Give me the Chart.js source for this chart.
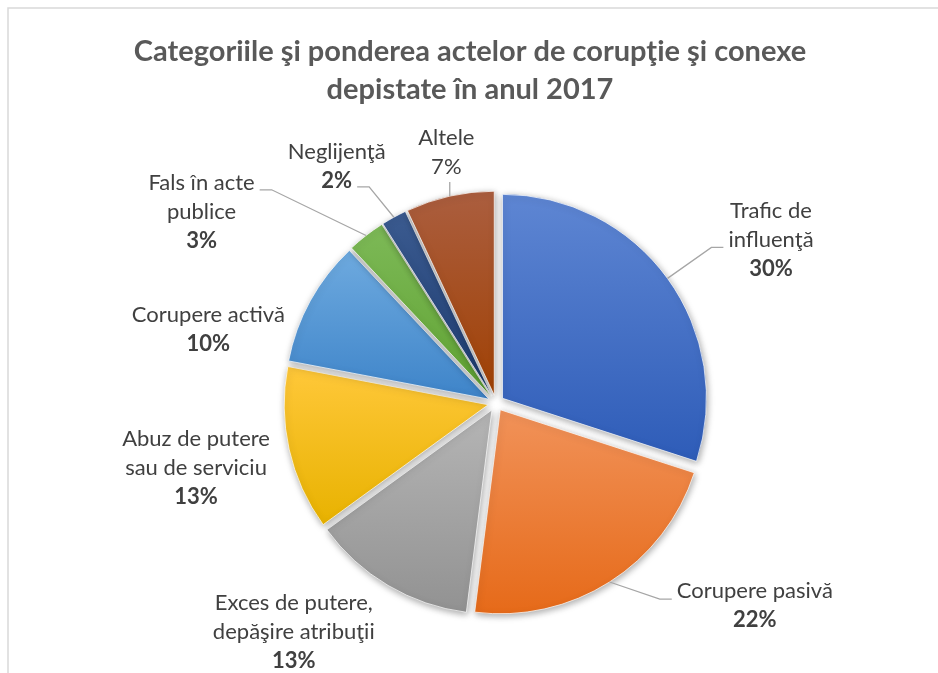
<!DOCTYPE html>
<html lang="ro">
  <head>
    <meta charset="UTF-8" />
    <title>Categoriile actelor de corupţie 2017</title>
    <script src="https://cdn.jsdelivr.net/npm/chart.js"></script>
    <style>
      html, body { margin: 0; padding: 0; background: #fff; }
      #wrap { width: 938px; height: 673px; position: relative; }
    </style>
  </head>
  <body>
    <div id="wrap"><canvas id="myChart"></canvas></div>

    <script>
      const titleLines = [
        "Categoriile şi ponderea actelor de corupţie şi conexe",
        "depistate în anul 2017",
      ];
      const categories = [
        ["Trafic de", "influenţă"],
        ["Corupere pasivă"],
        ["Exces de putere,", "depăşire atribuţii"],
        ["Abuz de putere", "sau de serviciu"],
        ["Corupere activă"],
        ["Fals în acte", "publice"],
        ["Neglijenţă"],
        ["Altele"],
      ];
      const shares = [30, 22, 13, 13, 10, 3, 2, 7];

      // styling
      const colorsTop = ["#5e86d3", "#f19259", "#b5b5b5", "#ffc83a", "#6eaadf", "#7db957", "#3b5b90", "#ab5e3f"];
      const colorsBottom = ["#2e5cb8", "#e66a19", "#929292", "#e8b200", "#3e84c9", "#60a333", "#1d3b70", "#a04104"];
      const EXPLODE = 8;
      const BORDER = 1;
      const LH = 29;
      const labelFont = "22px Lato";
      const pctFont = "bold 22px Lato";
      // label centre as angle (deg, clockwise from top) and distance in radii
      const labelPlace = [
        { a: 59.4, d: 1.566, lead: "L", row: -1, ly: 7 },
        { a: 128.0, d: 1.61, lead: "L", row: -1, ly: -6 },
        { a: 221.4, d: 1.499 },
        { a: 257.7, d: 1.505 },
        { a: 284.3, d: 1.455 },
        { a: 303.0, d: 1.721, lead: "R", row: -1, ly: -22 },
        { a: 326.0, d: 1.396, lead: "R", row: 1, ly: 20 },
        { a: 348.8, d: 1.254, lead: "B", ly: 30, bold: false },
      ];

      const total = shares.reduce((a, b) => a + b, 0);

      function sliceFill(context) {
        const i = context.dataIndex;
        const chart = context.chart;
        const area = chart.chartArea;
        if (!area) return colorsTop[i];
        const cy = (area.top + area.bottom) / 2;
        const r = (Math.min(area.width, area.height) - BORDER) / 2;
        let before = 0;
        for (let k = 0; k < i; k++) before += shares[k];
        const a0 = -Math.PI / 2 + (before / total) * 2 * Math.PI;
        const a1 = a0 + (shares[i] / total) * 2 * Math.PI;
        const ys = [cy, cy + r * Math.sin(a0), cy + r * Math.sin(a1)];
        [Math.PI / 2, (3 * Math.PI) / 2].forEach((e) => {
          if (e >= a0 && e <= a1) ys.push(cy + r * Math.sin(e));
        });
        const g = chart.ctx.createLinearGradient(0, Math.min(...ys), 0, Math.max(...ys));
        g.addColorStop(0, colorsTop[i]);
        g.addColorStop(1, colorsBottom[i]);
        return g;
      }

      // frame + title
      const framePlugin = {
        id: "frame",
        beforeDraw(chart) {
          const ctx = chart.ctx;
          ctx.save();
          ctx.strokeStyle = "#d9d9d9";
          ctx.lineWidth = 1.5;
          ctx.beginPath();
          ctx.moveTo(8, chart.height);
          ctx.lineTo(8, 8);
          ctx.lineTo(chart.width, 8);
          ctx.stroke();
          ctx.fillStyle = "#595959";
          ctx.font = "bold 29px Lato";
          ctx.textAlign = "center";
          ctx.textBaseline = "middle";
          titleLines.forEach((t, k) => ctx.fillText(t, chart.width / 2 + 1, 52 + k * 38));
          ctx.restore();
        },
      };

      // exploded slices with a soft shadow
      const explodePlugin = {
        id: "explode",
        beforeDatasetDraw(chart, args) {
          const ctx = chart.ctx;
          const arcs = args.meta.data;
          ctx.save();
          ctx.shadowColor = "rgba(0,0,0,0.35)";
          ctx.shadowBlur = 7;
          ctx.shadowOffsetX = 1;
          ctx.shadowOffsetY = 2;
          arcs.forEach((arc) => {
            const mid = (arc.startAngle + arc.endAngle) / 2;
            ctx.save();
            ctx.translate(Math.cos(mid) * EXPLODE, Math.sin(mid) * EXPLODE);
            arc.draw(ctx);
            ctx.restore();
          });
          ctx.restore();
          return false;
        },
      };

      const labelPlugin = {
        id: "sliceLabels",
        afterDatasetsDraw(chart) {
          const ctx = chart.ctx;
          const arcs = chart.getDatasetMeta(0).data;
          const cx = arcs[0].x, cy = arcs[0].y, R = arcs[0].outerRadius;
          ctx.save();
          ctx.textAlign = "center";
          ctx.textBaseline = "middle";
          arcs.forEach((arc, i) => {
            const p = labelPlace[i];
            const ang = (p.a * Math.PI) / 180;
            const lx = cx + Math.sin(ang) * R * p.d;
            const ly = cy - Math.cos(ang) * R * p.d;
            const pct = Math.round((shares[i] / total) * 100) + "%";
            const rows = categories[i].concat([pct]);
            const widths = rows.map((t, k) => {
              const bold = k === rows.length - 1 && p.bold !== false;
              ctx.font = bold ? pctFont : labelFont;
              return ctx.measureText(t).width;
            });
            const y0 = ly - ((rows.length - 1) / 2) * LH;
            ctx.fillStyle = "#404040";
            rows.forEach((t, k) => {
              const bold = k === rows.length - 1 && p.bold !== false;
              ctx.font = bold ? pctFont : labelFont;
              ctx.fillText(t, lx, y0 + k * LH);
            });

            if (!p.lead) return;
            const mid = (arc.startAngle + arc.endAngle) / 2;
            const sx = cx + Math.cos(mid) * (R + EXPLODE);
            const sy = cy + Math.sin(mid) * (R + EXPLODE);
            const w = p.row === undefined || p.row < 0 ? Math.max(...widths) : widths[p.row];
            ctx.strokeStyle = "#a6a6a6";
            ctx.lineWidth = 1.3;
            ctx.beginPath();
            ctx.moveTo(sx, sy);
            if (p.lead === "L") {
              const ex = lx - w / 2 - 5;
              ctx.lineTo(ex - 12, ly + p.ly);
              ctx.lineTo(ex, ly + p.ly);
            } else if (p.lead === "R") {
              const ex = lx + w / 2 + 5;
              ctx.lineTo(ex + 12, ly + p.ly);
              ctx.lineTo(ex, ly + p.ly);
            } else {
              ctx.lineTo(sx, ly + p.ly);
            }
            ctx.stroke();
          });
          ctx.restore();
        },
      };

      const ctx = document.getElementById("myChart").getContext("2d");
      new Chart(ctx, {
        type: "pie",
        data: {
          labels: categories,
          datasets: [
            {
              data: shares,
              backgroundColor: sliceFill,
              borderColor: "rgba(255,255,255,0.7)",
              borderWidth: BORDER,
            },
          ],
        },
        options: {
          responsive: true,
          maintainAspectRatio: false,
          animation: false,
          layout: { padding: { top: 198.5, bottom: 65.5, left: 54, right: 0 } },
          plugins: {
            legend: { display: false },
            tooltip: { enabled: false },
            title: { display: false },
          },
        },
        plugins: [framePlugin, explodePlugin, labelPlugin],
      });
    </script>
  </body>
</html>
